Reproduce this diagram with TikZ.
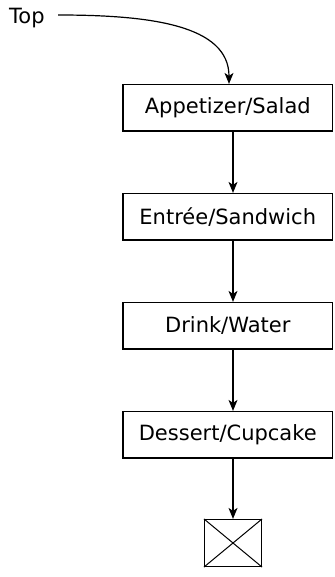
\documentclass[tikz,border=0pt]{standalone}
\usepackage{fontspec}
\setmainfont{DejaVu Sans}
\usetikzlibrary{arrows.meta}
\begin{document}
\begin{tikzpicture}[x=1pt,y=-1pt,
  every node/.style={font=\fontsize{21}{24}\selectfont},
  stepbox/.style={draw, line width=1.2pt, minimum width=209.5pt, minimum height=46.5pt, inner sep=0pt},
  conn/.style={line width=1.2pt, -{Stealth[length=11pt,width=9pt,inset=3pt]}}]
\useasboundingbox (0,0) rectangle (334,577);
\node[anchor=west, inner sep=0pt] (top) at (9,18) {Top};
\coordinate (tstart) at (58,15);
\node[stepbox] (a) at (227.75,107.75) {Appetizer/Salad};
\node[stepbox] (b) at (227.75,216.75) {Entrée/Sandwich};
\node[stepbox] (c) at (227.75,325.75) {Drink/Water};
\node[stepbox] (d) at (227.75,434.75) {Dessert/Cupcake};
\node[draw, line width=1.2pt, minimum width=57pt, minimum height=47pt, inner sep=0pt] (e) at (233,543) {};
\draw[line width=1pt] (e.north west) -- (e.south east) (e.north east) -- (e.south west);
\draw[conn] (tstart) .. controls (150,15) and (229,25) .. (a.north -| 229,0);
\draw[conn] (a.south -| 233,0) -- (b.north -| 233,0);
\draw[conn] (b.south -| 233,0) -- (c.north -| 233,0);
\draw[conn] (c.south -| 233,0) -- (d.north -| 233,0);
\draw[conn] (d.south -| 233,0) -- (e.north);
\end{tikzpicture}
\end{document}
